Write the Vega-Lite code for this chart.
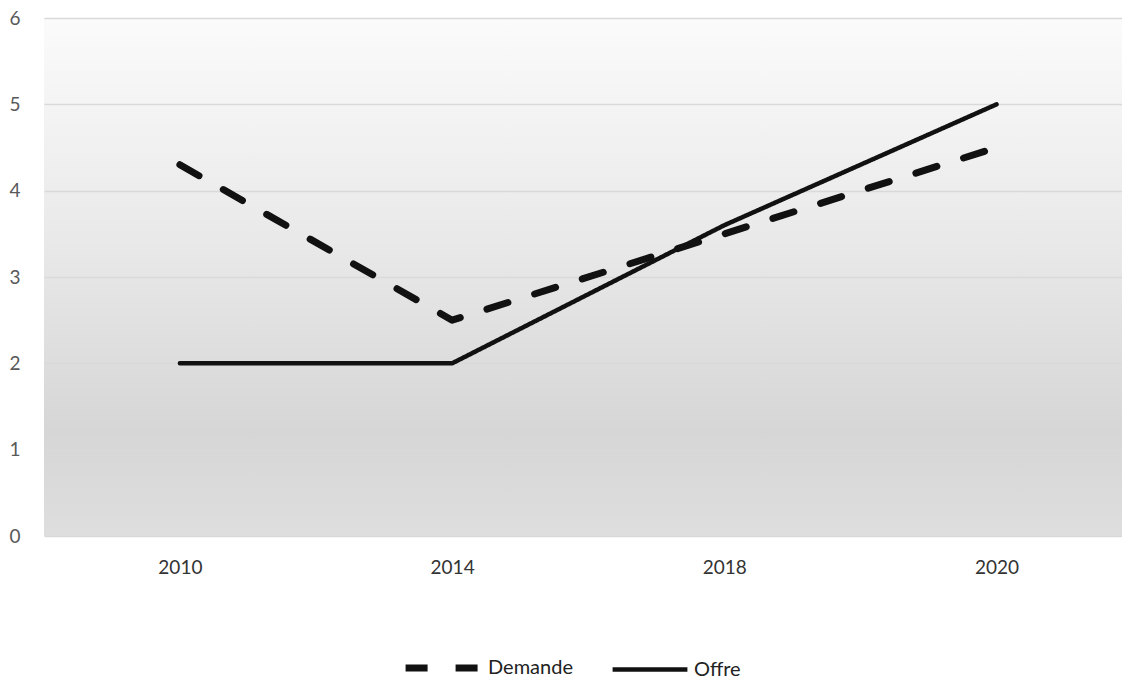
{
  "$schema": "https://vega.github.io/schema/vega-lite/v6.json",
  "autosize": "none",
  "width": 1078,
  "height": 518,
  "padding": {"left": 44, "top": 18, "right": 0, "bottom": 144},
  "background": "white",
  "config": {
    "view": {
      "stroke": null,
      "fill": {
        "gradient": "linear",
        "x1": 0, "y1": 0, "x2": 0, "y2": 1,
        "stops": [
          {"offset": 0, "color": "#fbfbfb"},
          {"offset": 0.45, "color": "#e8e8e8"},
          {"offset": 0.8, "color": "#d6d6d6"},
          {"offset": 1, "color": "#dedede"}
        ]
      }
    },
    "font": "Lato"
  },
  "data": {
    "values": [
      {"annee": "2010", "serie": "Demande", "valeur": 4.3},
      {"annee": "2014", "serie": "Demande", "valeur": 2.5},
      {"annee": "2018", "serie": "Demande", "valeur": 3.5},
      {"annee": "2020", "serie": "Demande", "valeur": 4.5},
      {"annee": "2010", "serie": "Offre", "valeur": 2},
      {"annee": "2014", "serie": "Offre", "valeur": 2},
      {"annee": "2018", "serie": "Offre", "valeur": 3.6},
      {"annee": "2020", "serie": "Offre", "valeur": 5}
    ]
  },
  "mark": {"type": "line", "color": "#111111", "strokeCap": "round", "strokeJoin": "round"},
  "encoding": {
    "x": {
      "field": "annee", "type": "ordinal",
      "scale": {"type": "point", "padding": 0.48, "align": 0.52},
      "axis": {
        "title": null, "labelAngle": 0, "ticks": false, "domain": false,
        "grid": false, "labelFontSize": 19, "labelColor": "#333333",
        "labelPadding": 22, "labelFont": "Lato"
      }
    },
    "y": {
      "field": "valeur", "type": "quantitative",
      "scale": {"domain": [0, 6]},
      "axis": {
        "title": null, "values": [0, 1, 2, 3, 4, 5, 6], "ticks": false, "domain": false,
        "gridColor": "#d9d9d9", "gridWidth": 1.5, "labelFontSize": 19,
        "labelColor": "#595959", "labelPadding": 24, "labelFont": "Lato"
      }
    },
    "strokeDash": {
      "field": "serie", "type": "nominal",
      "scale": {"domain": ["Demande", "Offre"], "range": [[22, 28], [1, 0]]},
      "legend": {
        "title": null, "orient": "none", "direction": "horizontal",
        "legendX": 358, "legendY": 609,
        "symbolType": "stroke", "symbolSize": 5600,
        "symbolStrokeColor": "#111111",
        "labelFontSize": 20, "labelColor": "#222222", "labelFont": "Lato",
        "columnPadding": 30, "symbolOffset": 0, "labelOffset": 4
      }
    },
    "strokeWidth": {
      "field": "serie", "type": "nominal",
      "scale": {"domain": ["Demande", "Offre"], "range": [7, 4.5]},
      "legend": null
    }
  }
}
